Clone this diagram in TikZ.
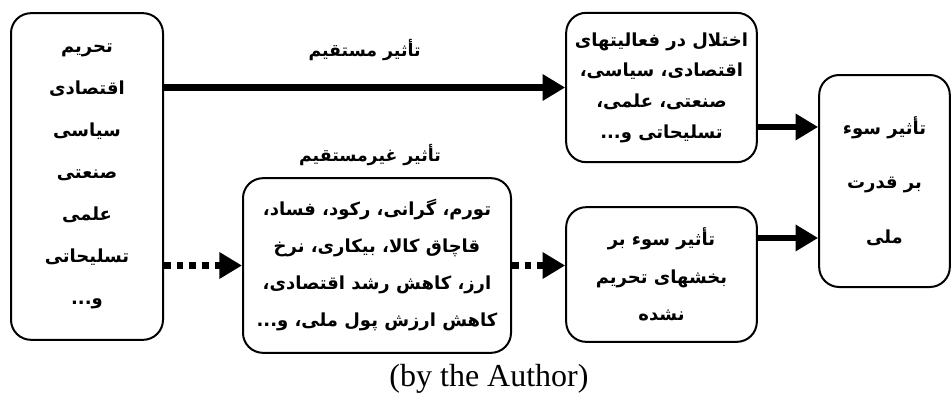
\documentclass[tikz,border=0pt]{standalone}
\usepackage{fontspec}
\setmainfont{Liberation Serif}
\newfontfamily\arabicfont[Script=Arabic]{DejaVu Sans}
\TeXXeTstate=1
\usetikzlibrary{arrows.meta}
\newcommand\rl[1]{\beginR #1\endR}
\begin{document}
\begin{tikzpicture}[x=0.75pt,y=-0.75pt,
        box/.style={draw,line width=1.5pt,rounded corners=15pt,align=center,
            font=\arabicfont\bfseries\fontsize{13.5}{#1}\selectfont},
        label/.style={font=\arabicfont\bfseries\fontsize{13}{16}\selectfont},
        bigarrow/.style={line width=5pt,-{Triangle[length=17pt,width=19pt]}},
        dotarrow/.style={bigarrow,dash pattern=on 5pt off 4.5pt}]
        \useasboundingbox (0,0) rectangle (951,394);
        % boxes
        \node[box=31.5,minimum width=114pt,minimum height=245pt] (sanc) at (87,176.5)
            {\rl{تحریم}\\\rl{اقتصادی}\\\rl{سیاسی}\\\rl{صنعتی}\\\rl{علمی}\\\rl{تسلیحاتی}\\\rl{و...}};
        \node[box=23,minimum width=143pt,minimum height=112pt] (disrupt) at (661.5,87.5)
            {\rl{اختلال در فعالیتهای}\\\rl{اقتصادی، سیاسی،}\\\rl{صنعتی، علمی،}\\\rl{تسلیحاتی و...}};
        \node[box=27.75,minimum width=201pt,minimum height=131pt] (effects) at (377,265.5)
            {\rl{تورم، گرانی، رکود، فساد،}\\\rl{قاچاق کالا، بیکاری، نرخ}\\\rl{ارز، کاهش رشد اقتصادی،}\\\rl{کاهش ارزش پول ملی، و...}};
        \node[box=28,minimum width=143pt,minimum height=101pt] (unsanc) at (661.5,274.5)
            {\rl{تأثیر سوء بر}\\\rl{بخشهای تحریم}\\\rl{نشده}};
        \node[box=41,minimum width=98pt,minimum height=159pt] (power) at (884.5,181)
            {\rl{تأثیر سوء}\\\rl{بر قدرت}\\\rl{ملی}};
        % arrows
        \draw[bigarrow] (sanc.east |- disrupt.west) -- (disrupt.west)
            node[label,midway,above=14pt] (direct) {\rl{تأثیر مستقیم}};
        \draw[dotarrow] (sanc.east |- effects.west) -- (effects.west);
        \node[label] (indirect) at (370,155) {\rl{تأثیر غیرمستقیم}};
        \draw[dotarrow] (effects.east) -- (effects.east -| unsanc.west);
        \draw[bigarrow] ([yshift=-29.6pt]disrupt.east) -- ([yshift=-29.6pt]disrupt.east -| power.west);
        \draw[bigarrow] ([yshift=27.4pt]unsanc.east) -- ([yshift=27.4pt]unsanc.east -| power.west);
        \node[font=\fontsize{24}{28}\selectfont] (source) at (489,379) {(by the Author)};
    \end{tikzpicture}
\end{document}
